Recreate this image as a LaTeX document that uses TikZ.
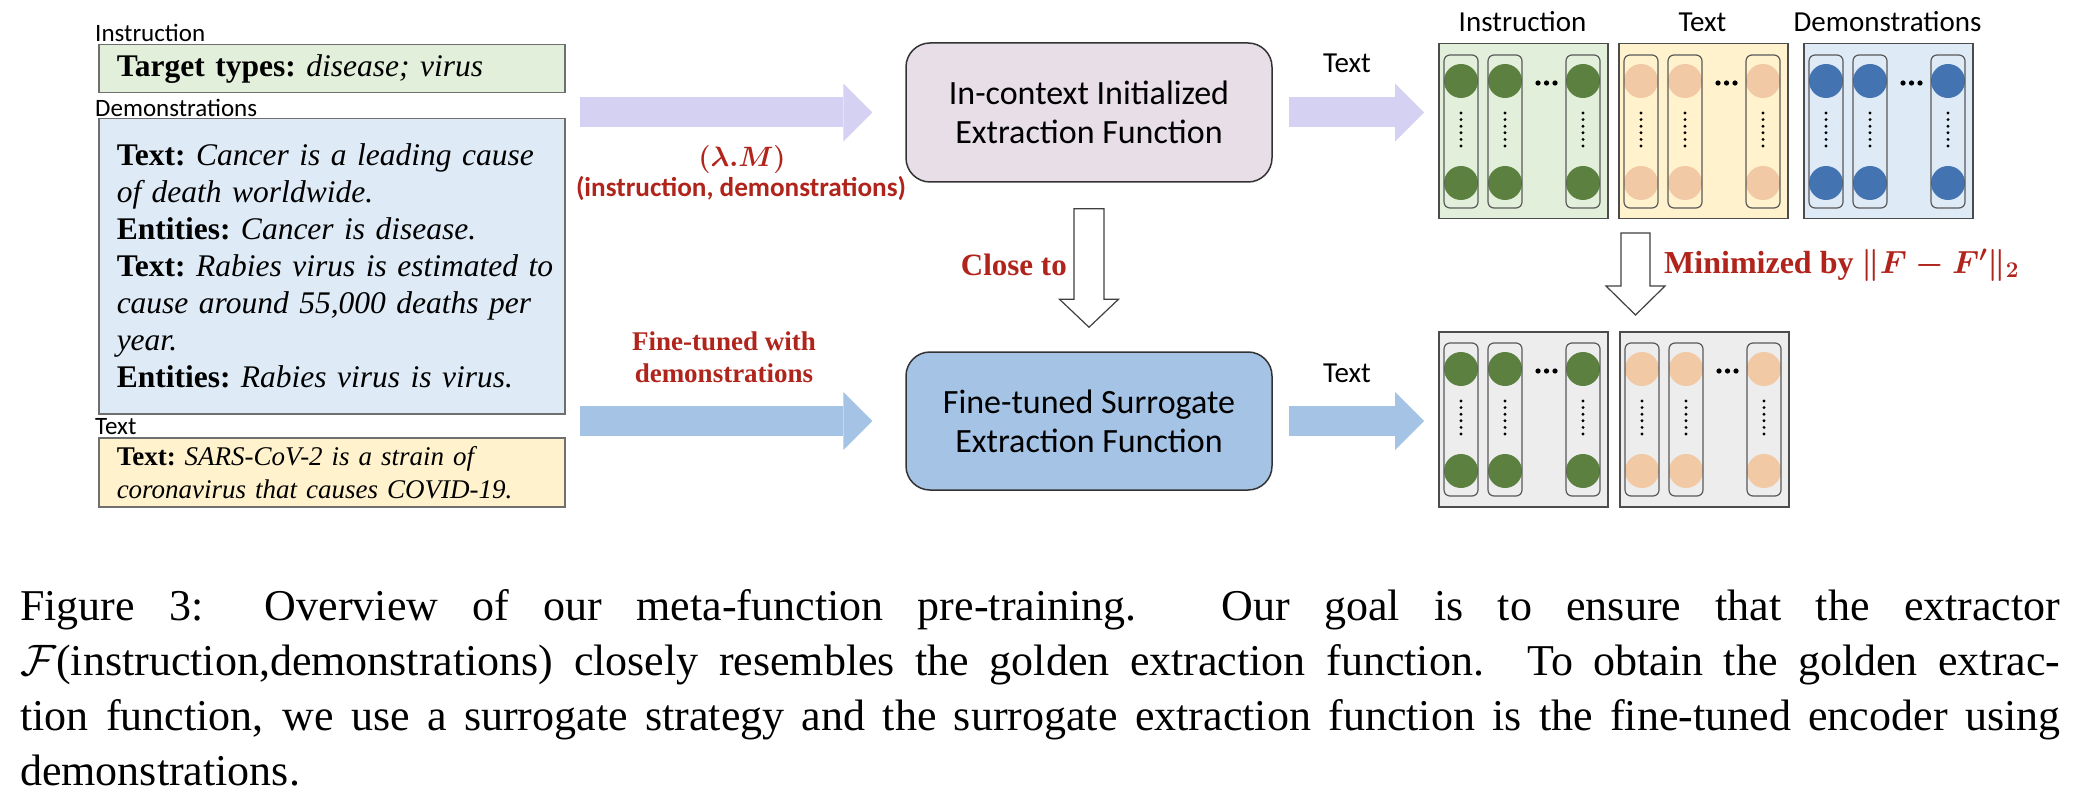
\RequirePackage{fix-cm}
\documentclass[tikz,border=0pt]{standalone}
\usepackage{fontspec}
\setmainfont{Liberation Serif}
\newfontfamily\calibri{Carlito}
\usepackage{amsmath}
\usetikzlibrary{arrows.meta,calc}
\definecolor{redlbl}{HTML}{B0241C}
\definecolor{instrfill}{HTML}{E2EFDA}
\definecolor{demofill}{HTML}{DEEBF7}
\definecolor{textfill}{HTML}{FFF2CC}
\definecolor{purplearr}{HTML}{D5D1F3}
\definecolor{bluearr}{HTML}{A5C3E5}
\definecolor{ictxfill}{HTML}{E7DEE8}
\definecolor{ftfill}{HTML}{A5C3E4}
\definecolor{greendot}{HTML}{5B803F}
\definecolor{peachdot}{HTML}{F1C9A4}
\definecolor{bluedot}{HTML}{4473B2}
\definecolor{greypanel}{HTML}{EDEDED}
\definecolor{boxline}{HTML}{6F6F6F}
\newcommand\panelcols[3]{%
  \foreach \cx in {23,67,145}{%
    \fill[#3] ({#1+\cx},{#2+38}) circle[radius=17pt];
    \fill[#3] ({#1+\cx},{#2+140}) circle[radius=17pt];
    \draw[colbox] ({#1+\cx-17},{#2+12}) rectangle ({#1+\cx+17},{#2+165});
    \foreach \k in {0,...,5} \fill ({#1+\cx},{#2+70+6.6*\k}) circle[radius=1.6pt];
  }
  \foreach \k in {0,1,2} \fill ({#1+100+8.5*\k},{#2+40}) circle[radius=2.6pt];
}
\begin{document}
\begin{tikzpicture}[x=1pt,y=-1pt,
  lbl/.style={font={\calibri\fontsize{25}{30}\selectfont}, inner sep=0pt, anchor=west},
  leftbox/.style={draw=boxline, line width=1.5pt, anchor=north west, minimum width=466pt,
    text width=430pt, inner xsep=18pt, inner ysep=0pt, align=left},
  funcbox/.style={draw=black!80, line width=1.5pt, rounded corners=24pt, minimum width=366pt,
    font={\calibri\fontsize{34}{39}\selectfont}, align=center},
  fat/.style={line width=30pt, -{Triangle[length=29pt,width=58pt,line width=0pt]}},
  hollow/.style={draw=black!75, line width=1.2pt, fill=white, line join=miter},
  redbf/.style={text=redlbl, font={\bfseries\fontsize{31}{36}\selectfont}, inner sep=0pt},
  panelbox/.style={draw=black!70, line width=1.5pt, minimum width=169pt, minimum height=175pt,
    inner sep=0pt, anchor=north west},
  colbox/.style={draw=black!65, line width=1.2pt, rounded corners=6pt},
  head/.style={font={\calibri\fontsize{29}{34}\selectfont}, inner sep=0pt}]
\fill[white] (0,0) rectangle (2076,802);
\useasboundingbox (0,0) rectangle (2076,802);

% left column
\node[lbl] (linstr) at (95,32.5) {Instruction};
\node[leftbox, fill=instrfill, minimum height=48pt, font={\fontsize{31.5}{37}\selectfont\frenchspacing}] (instr) at (98,44)
  {\mbox{\textbf{Target types:} \textit{disease; virus}}};
\node[lbl] (ldemo) at (95,108) {Demonstrations};
\node[leftbox, fill=demofill, minimum height=295pt, font={\fontsize{31.5}{37}\selectfont\frenchspacing}] (demo) at (98,118)
  {\mbox{\textbf{Text:} \textit{Cancer is a leading cause}}\\
   \mbox{\textit{of death worldwide.}}\\
   \mbox{\textbf{Entities:} \textit{Cancer is disease.}}\\
   \mbox{\textbf{Text:} \textit{Rabies virus is estimated to}}\\
   \mbox{\textit{cause around 55,000 deaths per}}\\
   \mbox{\textit{year.}}\\
   \mbox{\textbf{Entities:} \textit{Rabies virus is virus.}}};
\node[lbl] (ltext) at (95,427) {Text};
\node[leftbox, fill=textfill, minimum height=69pt, font={\fontsize{27}{33}\selectfont\frenchspacing}] (txt) at (98,437)
  {\mbox{\textbf{Text:} \textit{SARS-CoV-2 is a strain of}}\\
   \mbox{\textit{coronavirus that causes COVID-19.}}};

% function boxes
\node[funcbox, fill=ictxfill, minimum height=139pt] (ictx) at (1089,112.5) {In-context Initialized\\Extraction Function};
\node[funcbox, fill=ftfill, minimum height=138pt] (ft) at (1089,421) {Fine-tuned Surrogate\\Extraction Function};

% panels
\node[panelbox, fill=instrfill] (gtop) at (1438,43) {};
\node[panelbox, fill=textfill] (ytop) at (1618,43) {};
\node[panelbox, fill=demofill] (btop) at (1803,43) {};
\node[panelbox, fill=greypanel] (gbot) at (1438,331) {};
\node[panelbox, fill=greypanel] (ybot) at (1619,331) {};
\panelcols{1438}{43}{greendot}
\panelcols{1618}{43}{peachdot}
\panelcols{1803}{43}{bluedot}
\panelcols{1438}{331}{greendot}
\panelcols{1619}{331}{peachdot}
\node[head] (hinstr) at (1522.5,22) {Instruction};
\node[head] (htext) at (1702.5,22) {Text};
\node[head] (hdemo) at (1887.5,22) {Demonstrations};

% fat arrows
\draw[fat, purplearr, shorten <=14pt, shorten >=33pt] (instr.east |- ictx.west) -- (ictx.west);
\draw[fat, bluearr, shorten <=14pt, shorten >=33pt] (demo.east |- ft.west) -- (ft.west);
\draw[fat, purplearr, shorten <=16pt, shorten >=14pt] (ictx.east) -- (ictx.east -| gtop.west);
\draw[fat, bluearr, shorten <=16pt, shorten >=14pt] (ft.east) -- (ft.east -| gbot.west);
\node[head] (t1) at (1347,63) {Text};
\node[head] (t2) at (1347,373) {Text};

% hollow arrows
\coordinate (ca) at ($(ictx.south)+(0,26)$);
\coordinate (cb) at ($(ft.north)+(0,-24)$);
\draw[hollow] ($(ca)+(-15,0)$) -- ($(cb)+(-15,-28)$) -- ($(cb)+(-29.5,-28)$) -- (cb)
  -- ($(cb)+(29.5,-28)$) -- ($(cb)+(15,-28)$) -- ($(ca)+(15,0)$) -- cycle;
\coordinate (ma) at (1635.5,233);
\coordinate (mb) at (1635.5,315);
\draw[hollow] ($(ma)+(-14.5,0)$) -- ($(mb)+(-14.5,-29)$) -- ($(mb)+(-29.5,-29)$) -- (mb)
  -- ($(mb)+(29.5,-29)$) -- ($(mb)+(14.5,-29)$) -- ($(ma)+(14.5,0)$) -- cycle;

% red labels
\node[text=redlbl, inner sep=0pt, font={\fontsize{28}{30}\selectfont}] (lam) at (742,160) {{\boldmath$(\lambda.M)$}};
\node[text=redlbl, inner sep=0pt, font={\calibri\bfseries\fontsize{27.2}{30}\selectfont}] (idm) at (741,188) {(instruction, demonstrations)};
\node[text=redlbl, inner sep=0pt, align=center, font={\bfseries\fontsize{27}{32}\selectfont}] (ftw) at (724,357) {Fine-tuned with\\demonstrations};
\node[redbf, anchor=east] (close) at (1067,265) {Close to};
\node[redbf, anchor=west, font={\bfseries\fontsize{32}{36}\selectfont}] (minim) at (1664,265) {Minimized by {\boldmath$\|F-F'\|_2$}};

% caption
\node[anchor=north west, inner sep=0pt, text width=2040pt, align=justify,
  font={\fontsize{44}{55}\selectfont\tolerance=10000}] (cap) at (20,589)
  {Figure 3: Overview of our meta-function pre-training. Our goal is to ensure that the extractor\linebreak
   $\mathcal{F}$(instruction,demonstrations) closely resembles the golden extraction function. To obtain the golden extrac-\linebreak
   tion function, we use a surrogate strategy and the surrogate extraction function is the fine-tuned encoder using\linebreak
   demonstrations.};
\end{tikzpicture}
\end{document}
